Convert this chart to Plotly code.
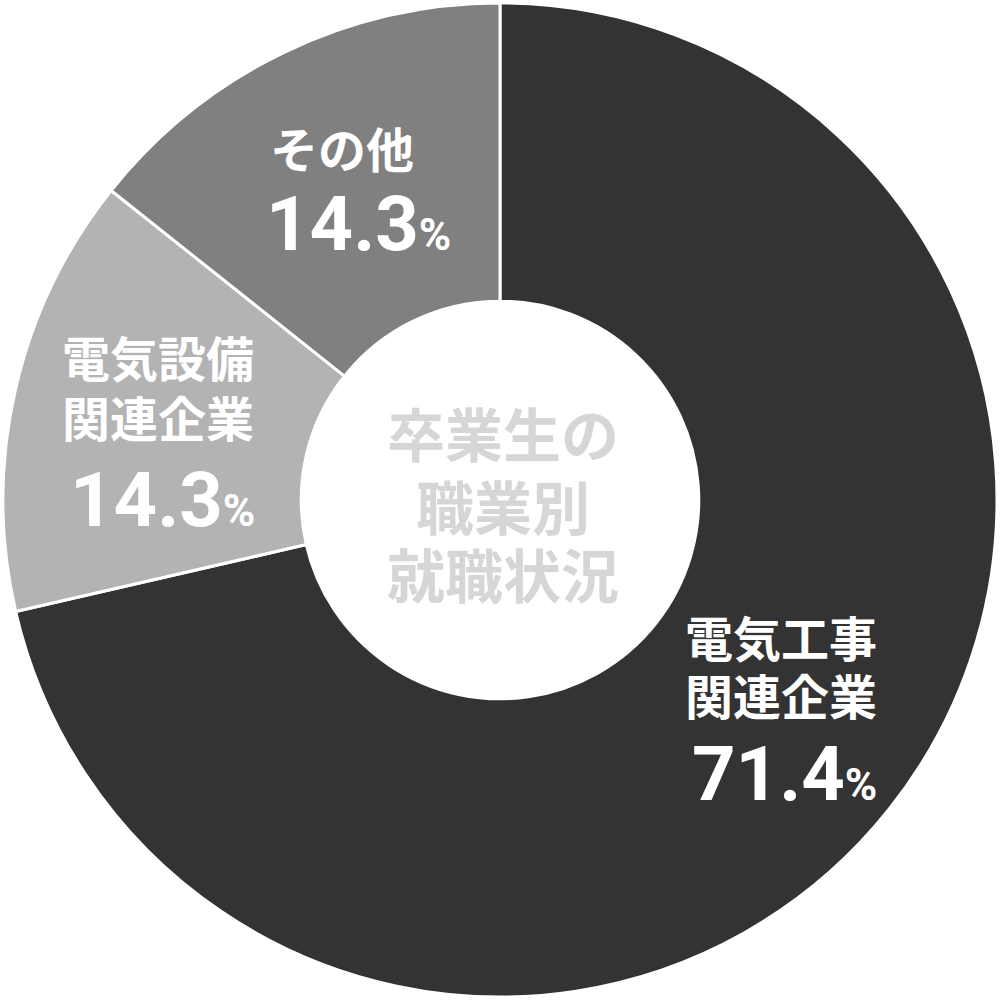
import plotly.graph_objects as go

labels = ["電気工事関連企業", "電気設備関連企業", "その他"]
label_lines = [["電気工事", "関連企業"], ["電気設備", "関連企業"], ["その他"]]
values = [71.4, 14.3, 14.3]
colors = ["#333333", "#b3b3b3", "#808080"]
center_title = ["卒業生の", "職業別", "就職状況"]

# annotation anchor positions (pixels in the 1000x1000 canvas)
label_x = [783, 156, 341]
label_y = [[637, 695], [355, 415], [145]]
pct_pos = [(786, 776), (160, 500), (358, 222)]
center_x = 503
center_y = [432, 505, 573]

FONT = "Noto Sans CJK JP"

fig = go.Figure(go.Pie(
    labels=labels,
    values=values,
    sort=False,
    direction="clockwise",
    rotation=0,
    hole=0.4,
    marker=dict(colors=colors, line=dict(color="white", width=3)),
    textinfo="none",
    hoverinfo="label+percent",
    showlegend=False,
))


def px(x, y):
    return x / 1000, 1 - y / 1000


annotations = []
for lines, lx, lys, v, (qx, qy) in zip(label_lines, label_x, label_y, values, pct_pos):
    for line, ly in zip(lines, lys):
        x, y = px(lx, ly)
        annotations.append(dict(
            x=x, y=y, xref="paper", yref="paper",
            text=line, showarrow=False, height=54,
            font=dict(family=FONT, size=48, color="white", weight="bold"),
            xanchor="center", yanchor="middle", valign="middle",
        ))
    x, y = px(qx, qy)
    annotations.append(dict(
        x=x, y=y, xref="paper", yref="paper",
        text=f"{v:.1f}<span style='font-size:44px'>%</span>", showarrow=False,
        font=dict(family="Roboto", size=76, color="white", weight="bold"),
        xanchor="center", yanchor="middle",
    ))

for line, cy in zip(center_title, center_y):
    x, y = px(center_x, cy)
    annotations.append(dict(
        x=x, y=y, xref="paper", yref="paper",
        text=line, showarrow=False, height=64,
        font=dict(family=FONT, size=58, color="#d6d6d6", weight="bold"),
        xanchor="center", yanchor="middle", valign="middle",
    ))

fig.update_layout(
    width=1000, height=1000,
    margin=dict(l=3, r=3, t=3, b=3),
    paper_bgcolor="white", plot_bgcolor="white",
    annotations=annotations,
)

fig.write_html(
    "out.html",
    config={"displayModeBar": False},
    post_script="document.body.style.margin='0';",
)
